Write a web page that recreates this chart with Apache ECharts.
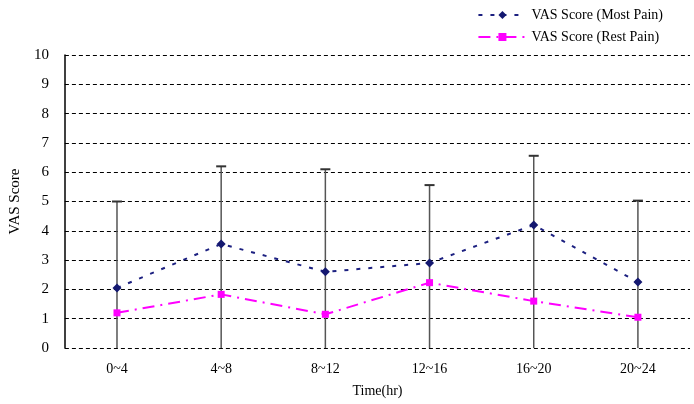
<!DOCTYPE html>
<html><head><meta charset="utf-8">
<script src="https://cdn.jsdelivr.net/npm/echarts@6/dist/echarts.min.js"></script>
<style>html,body{margin:0;padding:0;background:#fff}#c{width:694px;height:404px}</style>
</head><body><div id="c"></div>
<script>
const categories = ['0~4','4~8','8~12','12~16','16~20','20~24'];
const mostPain = [2.05, 3.55, 2.6, 2.9, 4.2, 2.25];
const restPain = [1.2, 1.83, 1.15, 2.23, 1.6, 1.05];
const errUpper = [5.0, 6.2, 6.1, 5.56, 6.56, 5.03];
const errLower = [0, 0, 0, 0, 0, 0];
const yTicks = [0,1,2,3,4,5,6,7,8,9,10];

const font = 'Liberation Serif';
const chart = echarts.init(document.getElementById('c'));
chart.setOption({
  animation: false,
  backgroundColor: '#fff',
  grid: {left: 63, right: 4, top: 55, bottom: 56},
  legend: {
    orient: 'vertical', right: 26, top: 3, itemGap: 8, itemWidth: 48, itemHeight: 10,
    textStyle: {fontFamily: font, fontSize: 14, color: '#000'},
    data: ['VAS Score (Most Pain)', 'VAS Score (Rest Pain)']
  },
  xAxis: {
    type: 'category', data: categories, boundaryGap: true,
    name: 'Time(hr)', nameLocation: 'middle', nameGap: 36,
    nameTextStyle: {fontFamily: font, fontSize: 14, color: '#000'},
    axisLine: {show: false}, axisTick: {show: false},
    axisLabel: {fontFamily: font, fontSize: 14, color: '#000', margin: 14}
  },
  yAxis: {
    type: 'value', min: yTicks[0], max: yTicks[yTicks.length-1], interval: 1,
    name: 'VAS Score', nameLocation: 'middle', nameGap: 37,
    nameTextStyle: {fontFamily: font, fontSize: 15, color: '#000'},
    axisLine: {show: true, lineStyle: {color: '#000', width: 1.5}},
    axisTick: {show: true, length: 3, inside: true, lineStyle: {color: '#000'}},
    axisLabel: {fontFamily: font, fontSize: 15, color: '#000', margin: 16},
    splitLine: {show: true, lineStyle: {color: '#000', type: [4,3], width: 1}}
  },
  series: [
    {
      type: 'custom', name: 'err', z: 1, silent: true,
      data: categories.map((c,i)=>[i, errLower[i], errUpper[i]]),
      renderItem: function(params, api){
        const lo = api.coord([api.value(0), api.value(1)]);
        const hi = api.coord([api.value(0), api.value(2)]);
        const st = {stroke: '#555', lineWidth: 1.5};
        return {type: 'group', children: [
          {type: 'line', shape: {x1: lo[0], y1: lo[1], x2: hi[0], y2: hi[1]}, style: st},
          {type: 'line', shape: {x1: hi[0]-5, y1: hi[1], x2: hi[0]+5, y2: hi[1]}, style: {stroke: '#333', lineWidth: 2}}
        ]};
      }
    },
    {
      type: 'line', name: 'VAS Score (Most Pain)', data: mostPain, z: 3,
      symbol: 'diamond', symbolSize: 9,
      itemStyle: {color: '#141870'},
      lineStyle: {color: '#1c2080', width: 2, type: [4,8]}
    },
    {
      type: 'line', name: 'VAS Score (Rest Pain)', data: restPain, z: 3,
      symbol: 'rect', symbolSize: 7,
      itemStyle: {color: '#ff00ff'},
      lineStyle: {color: '#ff00ff', width: 2, type: [12,6,2,6]}
    }
  ]
});
</script></body></html>
